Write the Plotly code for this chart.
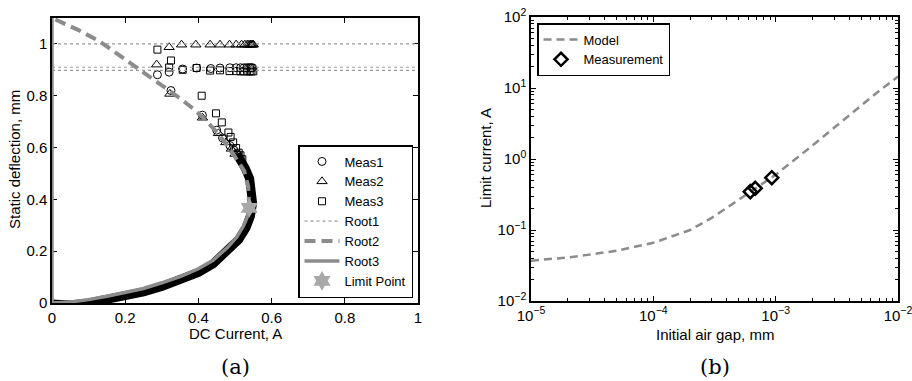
import plotly.graph_objects as go

# ---------------- panel (a): static deflection vs DC current ----------------
# Root1: three flat solutions (dotted)
root1_x = [0, 1, None, 0, 1, None, 0, 1]
root1_y = [1.0, 1.0, None, 0.91, 0.91, None, 0.898, 0.898]

# Root2: upper (unstable) branch, from the limit point up to the zero-current gap
root2_x = [0.539, 0.536, 0.525, 0.51, 0.495, 0.475, 0.45, 0.42, 0.39, 0.35, 0.30, 0.25, 0.20, 0.13, 0.07, 0.0]
root2_y = [0.367, 0.45, 0.51, 0.545, 0.575, 0.615, 0.66, 0.705, 0.745, 0.79, 0.84, 0.89, 0.94, 1.01, 1.055, 1.1]

# Root3: lower (stable) branch, including the trivial x = 0 solution
root3_x = [0, 0, 0.05, 0.10, 0.15, 0.20, 0.25, 0.30, 0.35, 0.40, 0.44, 0.48, 0.505, 0.523, 0.533, 0.539]
root3_y = [1.1, 0, 0.004, 0.013, 0.026, 0.04, 0.056, 0.078, 0.102, 0.132, 0.165, 0.215, 0.255, 0.297, 0.33, 0.367]

limit_x = [0.539]
limit_y = [0.367]

# densely sampled measurements along the stable branch (they merge into a band)
dense_x = [0.0, 0.05, 0.10, 0.15, 0.20, 0.25, 0.30, 0.35, 0.40, 0.44, 0.48, 0.51, 0.53, 0.542, 0.548, 0.547, 0.54, 0.528, 0.515, 0.505]
dense_y = [-0.004, -0.008, 0.0, 0.013, 0.027, 0.043, 0.064, 0.088, 0.118, 0.151, 0.2, 0.245, 0.29, 0.335, 0.385, 0.435, 0.48, 0.52, 0.55, 0.575]

meas1_x = [0.288, 0.32, 0.357, 0.395, 0.434, 0.459, 0.486, 0.503, 0.515, 0.525, 0.532, 0.537, 0.541, 0.545, 0.548,
           0.325, 0.411, 0.45, 0.466, 0.486, 0.497, 0.507]
meas1_y = [0.881, 0.891, 0.903, 0.907, 0.905, 0.907, 0.908, 0.908, 0.908, 0.908, 0.908, 0.908, 0.908, 0.908, 0.908,
           0.82, 0.725, 0.667, 0.637, 0.608, 0.59, 0.575]

meas2_x = [0.32, 0.354, 0.393, 0.432, 0.459, 0.485, 0.503, 0.518, 0.527, 0.533, 0.538, 0.542, 0.545, 0.548, 0.55,
           0.286, 0.322, 0.411, 0.455, 0.475, 0.49, 0.5]
meas2_y = [0.987, 0.997, 0.997, 0.997, 0.997, 0.997, 0.997, 0.997, 0.997, 0.997, 0.997, 0.997, 0.997, 0.997, 0.997,
           0.92, 0.807, 0.715, 0.655, 0.62, 0.595, 0.575]

meas3_x = [0.288, 0.325, 0.32, 0.357, 0.395, 0.432, 0.459, 0.485, 0.503, 0.515, 0.525, 0.533, 0.54, 0.545, 0.55,
           0.409, 0.448, 0.464, 0.482, 0.488, 0.495, 0.503, 0.51, 0.515, 0.52]
meas3_y = [0.978, 0.936, 0.909, 0.9, 0.907, 0.897, 0.898, 0.895, 0.895, 0.894, 0.894, 0.894, 0.894, 0.894, 0.894,
           0.8, 0.732, 0.697, 0.658, 0.641, 0.62, 0.598, 0.58, 0.57, 0.555]

lin_ticks = [0, 0.2, 0.4, 0.6, 0.8, 1]
lin_ticktext = ["0", "0.2", "0.4", "0.6", "0.8", "1"]

# ---------------- panel (b): limit current vs initial air gap ----------------
model_gap = [1e-5, 2e-5, 3e-5, 5e-5, 1e-4, 2e-4, 3e-4, 5e-4, 7e-4, 1e-3, 2e-3, 3e-3, 5e-3, 7e-3, 1e-2]
model_cur = [0.037, 0.041, 0.045, 0.051, 0.066, 0.10, 0.148, 0.265, 0.39, 0.6, 1.55, 2.75, 5.6, 9.1, 14.5]

meas_gap = [6.2e-4, 6.8e-4, 9.3e-4]
meas_cur = [0.347, 0.386, 0.546]

gap_ticks = [1e-5, 1e-4, 1e-3, 1e-2]
gap_ticktext = ["10<sup>−5</sup>", "10<sup>−4</sup>", "10<sup>−3</sup>", "10<sup>−2</sup>"]
cur_ticks = [1e-2, 1e-1, 1, 10, 100]
cur_ticktext = ["10<sup>−2</sup>", "10<sup>−1</sup>", "10<sup>0</sup>", "10<sup>1</sup>", "10<sup>2</sup>"]

W, H = 912, 381
GREY = "#8c8c8c"
FONT = "Liberation Sans, Arial, sans-serif"

fig = go.Figure()

fig.add_trace(go.Scatter(x=dense_x, y=dense_y, mode="lines", line=dict(color="black", width=9),
                         showlegend=False, hoverinfo="skip"))
fig.add_trace(go.Scatter(x=meas1_x, y=meas1_y, mode="markers", name="Meas1",
                         marker=dict(symbol="circle-open", size=8, color="black", line=dict(width=1))))
fig.add_trace(go.Scatter(x=meas2_x, y=meas2_y, mode="markers", name="Meas2",
                         marker=dict(symbol="triangle-up-open", size=9, color="black", line=dict(width=1))))
fig.add_trace(go.Scatter(x=meas3_x, y=meas3_y, mode="markers", name="Meas3",
                         marker=dict(symbol="square-open", size=7, color="black", line=dict(width=1))))
fig.add_trace(go.Scatter(x=root1_x, y=root1_y, mode="lines", name="Root1",
                         line=dict(color="#9a9a9a", width=1.2, dash="dot")))
fig.add_trace(go.Scatter(x=root2_x, y=root2_y, mode="lines", name="Root2",
                         line=dict(color=GREY, width=4, dash="11px,6px")))
fig.add_trace(go.Scatter(x=root3_x, y=root3_y, mode="lines", name="Root3",
                         line=dict(color=GREY, width=3.5)))
fig.add_trace(go.Scatter(x=limit_x, y=limit_y, mode="markers", name="Limit Point",
                         marker=dict(symbol="hexagram", size=15, color="#a8a8a8", line=dict(width=0)),
                         cliponaxis=False))

fig.add_trace(go.Scatter(x=model_gap, y=model_cur, mode="lines", name="Model", xaxis="x2", yaxis="y2",
                         legend="legend2", line=dict(color=GREY, width=2.5, dash="8px,5px")))
fig.add_trace(go.Scatter(x=meas_gap, y=meas_cur, mode="markers", name="Measurement", xaxis="x2", yaxis="y2",
                         legend="legend2",
                         marker=dict(symbol="diamond-open", size=10, color="black", line=dict(width=2.5))))

axis_common = dict(showline=True, linecolor="black", linewidth=1.5, mirror="ticks", ticks="inside",
                   ticklen=5, tickcolor="black", showgrid=False, zeroline=False, automargin=False,
                   ticklabeloverflow="allow",
                   tickfont=dict(family=FONT, size=15, color="black"))
minor_ticks = dict(ticks="inside", ticklen=3, dtick="D1", tickcolor="black", showgrid=False)

fig.update_layout(
    width=W, height=H, margin=dict(l=0, r=0, t=0, b=0),
    paper_bgcolor="white", plot_bgcolor="white",
    xaxis=dict(domain=[52 / W, 418 / W], range=[0, 1], tickvals=lin_ticks, ticktext=lin_ticktext,
               anchor="y", **axis_common),
    yaxis=dict(domain=[(H - 303) / H, (H - 18) / H], range=[0, 1.1], tickvals=lin_ticks,
               ticktext=lin_ticktext, anchor="x", layer="below traces", **axis_common),
    xaxis2=dict(domain=[531 / W, 898 / W], type="log", range=[-5, -2], tickvals=gap_ticks,
                ticktext=gap_ticktext, anchor="y2", minor=minor_ticks, **axis_common),
    yaxis2=dict(domain=[(H - 301) / H, (H - 17) / H], type="log", range=[-2, 2], tickvals=cur_ticks,
                ticktext=cur_ticktext, anchor="x2", minor=minor_ticks, **axis_common),
    legend=dict(x=298 / W, y=(H - 298) / H, xanchor="left", yanchor="bottom", bgcolor="white",
                bordercolor="black", borderwidth=1.5, font=dict(family=FONT, size=13, color="black"),
                itemwidth=35, tracegroupgap=0),
    legend2=dict(x=537 / W, y=(H - 23) / H, xanchor="left", yanchor="top", bgcolor="white",
                 bordercolor="black", borderwidth=1.5, font=dict(family=FONT, size=13, color="black"),
                 itemwidth=35),
    showlegend=True,
)


def label(text, px, py, angle=0, font=None):
    fig.add_annotation(text=text, x=px / W, y=(H - py) / H, xref="paper", yref="paper",
                       xanchor="center", yanchor="middle", showarrow=False, textangle=angle,
                       font=font)


ann_font = dict(family=FONT, size=15, color="black")
label("DC Current, A", 235, 333, font=ann_font)
label("Static deflection, mm", 14, 160, angle=-90, font=ann_font)
label("Initial air gap, mm", 715, 334, font=ann_font)
label("Limit current, A", 485, 158, angle=-90, font=ann_font)
sub_font = dict(family="DejaVu Serif, Liberation Serif, serif", size=21, color="black")
label("(a)", 235, 367, font=sub_font)
label("(b)", 715, 367, font=sub_font)

fig.write_html("out.html")
